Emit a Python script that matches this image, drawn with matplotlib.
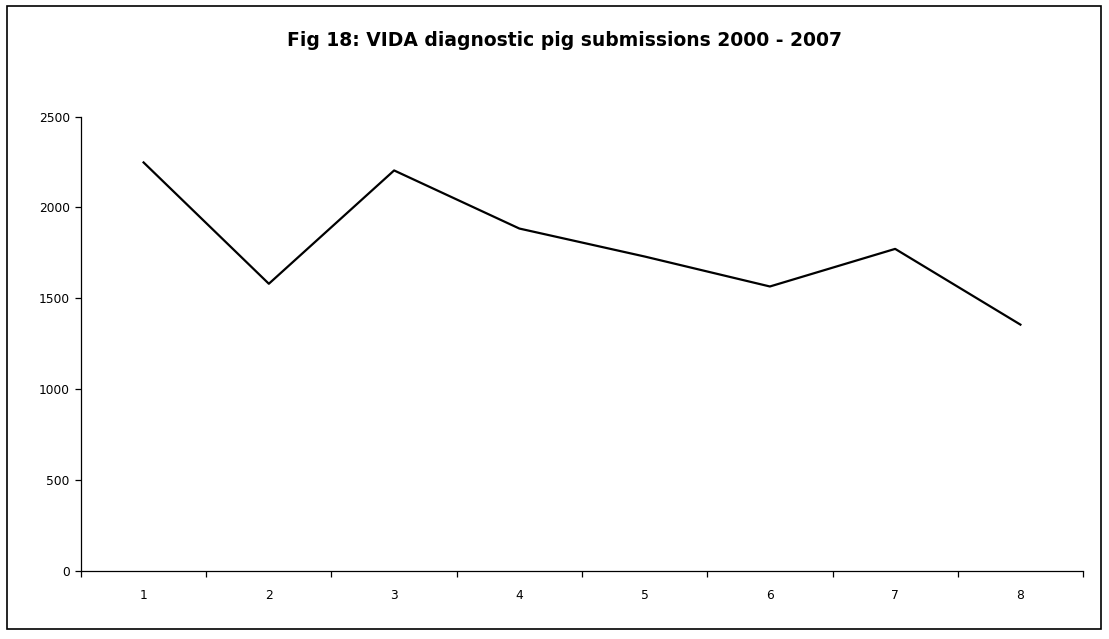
import numpy as np
import matplotlib.pyplot as plt
from matplotlib.patches import Rectangle

plt.rcParams['font.family'] = ['DejaVu Sans']

# yearly pig submissions, numbered 1..8 for 2000-2007
periods = [1, 2, 3, 4, 5, 6, 7, 8]
submissions = [2248, 1580, 2204, 1884, 1730, 1565, 1772, 1355]
yticks = [0, 500, 1000, 1500, 2000, 2500]

fig = plt.figure(figsize=(11.09, 6.39), dpi=100)
ax = fig.add_axes([0.0730, 0.1069, 0.9036, 0.7105])

ax.plot(periods, submissions, color='black', linewidth=1.6)

ax.set_xlim(0.5, 8.5)
ax.set_ylim(0, 2500)
ax.set_yticks(yticks)
ax.set_xticks(periods)
ax.set_xticks(np.arange(0.5, 9, 1), minor=True)

for side in ['top', 'right']:
    ax.spines[side].set_visible(False)
for side in ['left', 'bottom']:
    ax.spines[side].set_linewidth(0.9)

ax.tick_params(axis='y', direction='out', length=4, width=0.9, pad=4, labelsize=8.8)
ax.tick_params(axis='x', which='major', length=0, pad=13, labelsize=8.8)
ax.tick_params(axis='x', which='minor', direction='out', length=4, width=0.9)

fig.text(0.5086, 0.937, 'Fig 18: VIDA diagnostic pig submissions 2000 - 2007',
         ha='center', va='center', fontsize=13.5, fontweight='bold')

# frame round the whole chart
fig.patches.append(Rectangle((7 / 1109, 1 - 629 / 639), 1094 / 1109, 623 / 639,
                             transform=fig.transFigure, fill=False,
                             edgecolor='black', linewidth=1.2))

fig.savefig('out.png', dpi=100)
